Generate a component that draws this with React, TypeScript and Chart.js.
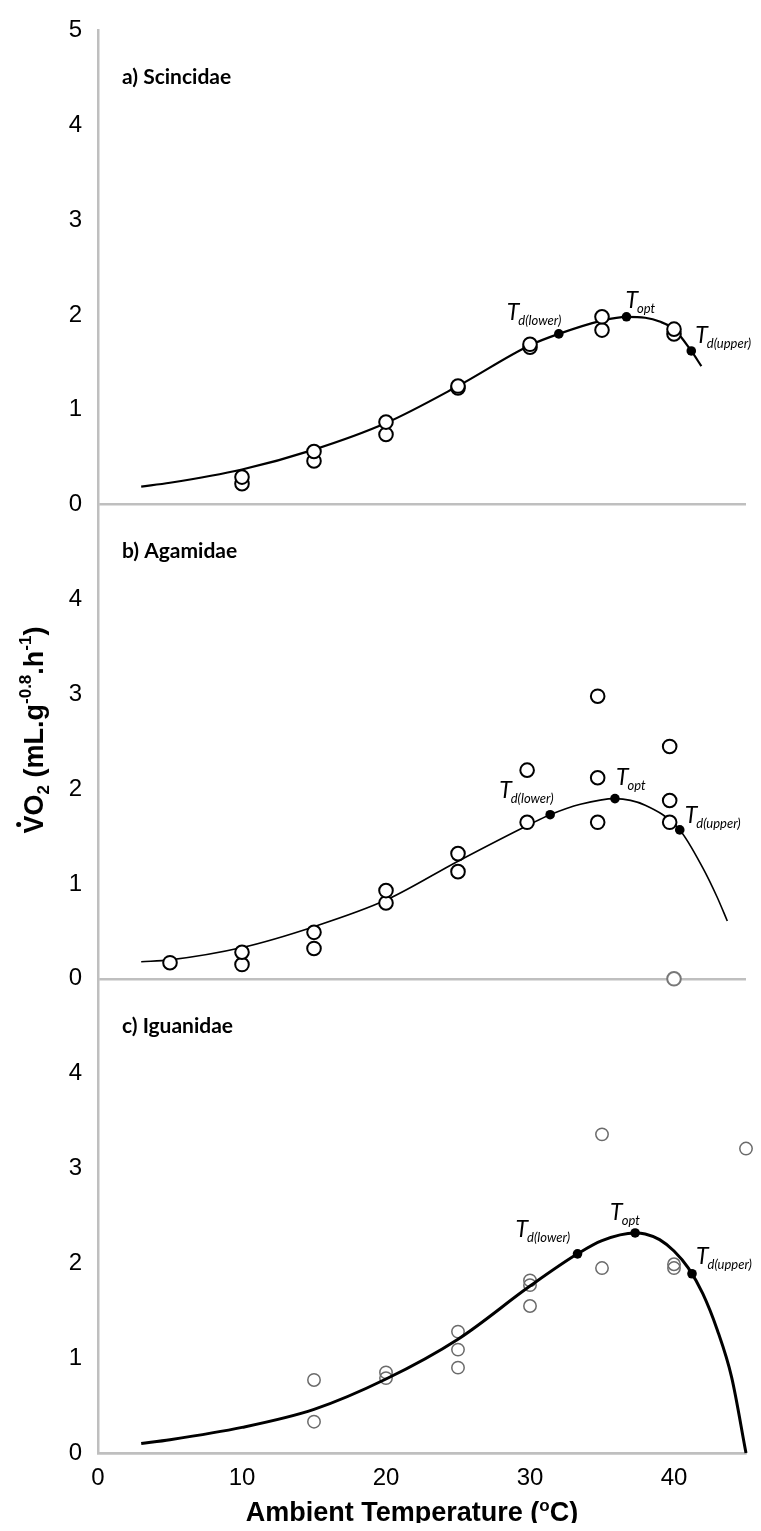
import React, { useEffect, useRef } from 'react';
import { Chart, registerables } from 'chart.js';

Chart.register(...registerables);

// ---------- axes ----------
const xMin = 0;
const xMax = 45;
const xStep = 10;
const yMin = 0;
const yMax = 5;
const yStep = 1;

const panelLabels = ['a) Scincidae', 'b) Agamidae', 'c) Iguanidae'];
const annotMain = ['T', 'T', 'T'];
const annotSub = ['d(lower)', 'opt', 'd(upper)'];

// ---------- a) Scincidae ----------
const scincidaeObsT = [10, 10, 15, 15, 20, 20, 25, 25, 30, 30, 35, 35, 40, 40];
const scincidaeObsV = [0.22, 0.29, 0.46, 0.56, 0.74, 0.87, 1.23, 1.25, 1.66, 1.69, 1.84, 1.98, 1.80, 1.85];
const scincidaeCurveT = [3, 5, 10, 15, 20, 25, 30, 32, 35, 36.7, 38, 39, 40, 41.2, 41.9];
const scincidaeCurveV = [0.19, 0.23, 0.37, 0.58, 0.86, 1.25, 1.68, 1.80, 1.94, 1.98, 1.97, 1.93, 1.85, 1.62, 1.46];
const scincidaeMarkT = [32.0, 36.7, 41.2];
const scincidaeMarkV = [1.80, 1.98, 1.62];

// ---------- b) Agamidae ----------
const agamidaeObsT = [5, 10, 10, 15, 15, 20, 20, 25, 25, 29.8, 29.8, 34.7, 34.7, 34.7, 39.7, 39.7, 39.7];
const agamidaeObsV = [0.17, 0.15, 0.28, 0.32, 0.49, 0.80, 0.93, 1.13, 1.32, 1.65, 2.20, 1.65, 2.12, 2.98, 1.65, 1.88, 2.45];
const agamidaeOutlierT = [40.0];
const agamidaeOutlierV = [0.0];
const agamidaeCurveT = [3, 5, 10, 15, 20, 25, 30, 31.4, 33.5, 35.9, 38, 40.4, 42, 43, 43.7];
const agamidaeCurveV = [0.18, 0.20, 0.33, 0.55, 0.83, 1.24, 1.63, 1.73, 1.84, 1.90, 1.83, 1.57, 1.17, 0.86, 0.61];
const agamidaeMarkT = [31.4, 35.9, 40.4];
const agamidaeMarkV = [1.73, 1.90, 1.57];

// ---------- c) Iguanidae ----------
const iguanidaeObsT = [15, 15, 20, 20, 25, 25, 25, 30, 30, 30, 35, 35, 40, 40, 45];
const iguanidaeObsV = [0.77, 0.33, 0.85, 0.79, 1.28, 1.09, 0.90, 1.82, 1.77, 1.55, 3.36, 1.95, 1.99, 1.95, 3.21];
const iguanidaeCurveT = [3, 5, 10, 15, 20, 25, 30, 33.3, 35, 37.3, 38, 39, 40, 41, 42, 43, 44, 45];
const iguanidaeCurveV = [0.10, 0.14, 0.27, 0.46, 0.78, 1.20, 1.76, 2.10, 2.24, 2.32, 2.31, 2.25, 2.13, 1.95, 1.68, 1.30, 0.80, 0.0];
const iguanidaeMarkT = [33.3, 37.3, 41.25];
const iguanidaeMarkV = [2.10, 2.32, 1.89];

const AXIS_GRAY = '#bfbfbf';
const W = 761;
const H = 1531;

const pts = (ts: number[], vs: number[]) => ts.map((t, i) => ({ x: t, y: vs[i] }));

type Seg = { text: string; size: number; dy: number; dot?: boolean };

function drawRich(ctx: CanvasRenderingContext2D, segs: Seg[], cx: number, baseY: number, style: string, family: string) {
  let total = 0;
  const widths = segs.map((s) => {
    ctx.font = `${style} ${s.size}px ${family}`;
    const w = ctx.measureText(s.text).width;
    total += w;
    return w;
  });
  let x = cx - total / 2;
  segs.forEach((s, i) => {
    ctx.font = `${style} ${s.size}px ${family}`;
    ctx.fillText(s.text, x, baseY + s.dy);
    if (s.dot) {
      ctx.beginPath();
      ctx.arc(x + widths[i] / 2, baseY + s.dy - s.size * 0.716 - 5, 2.5, 0, Math.PI * 2);
      ctx.fill();
    }
    x += widths[i];
  });
}

export default function App() {
  const ref = useRef<HTMLCanvasElement>(null);

  useEffect(() => {
    const canvas = ref.current;
    if (!canvas) return;

    const panels = [
      {
        yId: 'yA', obsT: scincidaeObsT, obsV: scincidaeObsV, curveT: scincidaeCurveT, curveV: scincidaeCurveV,
        markT: scincidaeMarkT, markV: scincidaeMarkV, lineWidth: 2.2,
        offsets: [[-52, -14], [-1, -9], [4, -8]],
      },
      {
        yId: 'yB', obsT: agamidaeObsT, obsV: agamidaeObsV, curveT: agamidaeCurveT, curveV: agamidaeCurveV,
        markT: agamidaeMarkT, markV: agamidaeMarkV, lineWidth: 1.6,
        offsets: [[-51, -17], [1, -14], [5, -7]],
      },
      {
        yId: 'yC', obsT: iguanidaeObsT, obsV: iguanidaeObsV, curveT: iguanidaeCurveT, curveV: iguanidaeCurveV,
        markT: iguanidaeMarkT, markV: iguanidaeMarkV, lineWidth: 3,
        offsets: [[-62, -17], [-25, -13], [4, -10]],
      },
    ];

    const datasets: any[] = [];
    panels.forEach((p, pi) => {
      datasets.push({
        type: 'scatter', data: pts(p.markT, p.markV), xAxisID: 'x', yAxisID: p.yId,
        pointRadius: 4.8, backgroundColor: '#000', borderColor: '#000', borderWidth: 0,
        pointBackgroundColor: '#000', pointBorderColor: '#000', pointBorderWidth: 0,
        order: 0, clip: false,
      });
      const isC = pi === 2;
      datasets.push({
        type: 'scatter', data: pts(p.obsT, p.obsV), xAxisID: 'x', yAxisID: p.yId,
        pointRadius: isC ? 6.2 : 6.8,
        backgroundColor: isC ? 'rgba(255,255,255,0)' : '#fff',
        pointBackgroundColor: isC ? 'rgba(255,255,255,0)' : '#fff',
        borderColor: isC ? '#6b6b6b' : '#000', pointBorderColor: isC ? '#6b6b6b' : '#000',
        borderWidth: isC ? 1.5 : 2, pointBorderWidth: isC ? 1.5 : 2,
        order: isC ? 3 : 1, clip: false,
      });
      datasets.push({
        type: 'line', data: pts(p.curveT, p.curveV), xAxisID: 'x', yAxisID: p.yId,
        borderColor: '#000', borderWidth: p.lineWidth, pointRadius: 0, fill: false,
        cubicInterpolationMode: 'monotone', order: 2, clip: false,
      });
    });
    datasets.push({
      type: 'scatter', data: pts(agamidaeOutlierT, agamidaeOutlierV), xAxisID: 'x', yAxisID: 'yB',
      pointRadius: 6.8, backgroundColor: '#fff', pointBackgroundColor: '#fff',
      borderColor: '#777', pointBorderColor: '#777', borderWidth: 2, pointBorderWidth: 2,
      order: 1, clip: false,
    });

    const yScale = (hideTop: boolean) => ({
      type: 'linear',
      position: 'left',
      stack: 'panels',
      stackWeight: 1,
      min: yMin,
      max: yMax,
      afterFit: (s: any) => { s.width = 98; },
      ticks: {
        stepSize: yStep,
        padding: 16,
        color: '#000',
        font: { family: 'Liberation Sans', size: 24 },
        callback: (v: any) => (hideTop && v === yMax ? '' : String(v)),
      },
      grid: {
        drawTicks: false,
        lineWidth: 2.5,
        color: (c: any) => (c.tick && c.tick.value === 0 ? AXIS_GRAY : 'rgba(0,0,0,0)'),
      },
      border: { display: true, color: AXIS_GRAY, width: 2.5 },
    });

    const titlePlugin = {
      id: 'decor',
      afterDatasetsDraw(chart: any) {
        const ctx: CanvasRenderingContext2D = chart.ctx;
        const xs = chart.scales.x;
        ctx.save();
        ctx.fillStyle = '#000';
        panels.forEach((p, pi) => {
          const ys = chart.scales[p.yId];
          ctx.font = 'bold 21px Lato';
          ctx.textAlign = 'left';
          ctx.textBaseline = 'middle';
          ctx.fillText(panelLabels[pi], chart.chartArea.left + 24, ys.top + 47);
          ctx.textBaseline = 'alphabetic';
          p.markT.forEach((t, i) => {
            const px = xs.getPixelForValue(t);
            const py = ys.getPixelForValue(p.markV[i]);
            const [dx, dy] = p.offsets[i];
            ctx.font = 'italic 23px Lato';
            ctx.fillText(annotMain[i], px + dx, py + dy);
            const w = ctx.measureText(annotMain[i]).width;
            ctx.font = 'italic 13px Lato';
            ctx.fillText(annotSub[i], px + dx + w - 1, py + dy + 5);
          });
        });
        ctx.restore();
      },
      afterDraw(chart: any) {
        const ctx: CanvasRenderingContext2D = chart.ctx;
        ctx.save();
        ctx.fillStyle = '#000';
        ctx.textAlign = 'left';
        ctx.textBaseline = 'alphabetic';
        // x title
        drawRich(ctx, [
          { text: 'Ambient Temperature (', size: 27, dy: 0 },
          { text: 'o', size: 17, dy: -10 },
          { text: 'C)', size: 27, dy: 0 },
        ], 412, 1521, 'bold', 'Liberation Sans');
        // y title (rotated)
        ctx.translate(43, 730);
        ctx.rotate(-Math.PI / 2);
        drawRich(ctx, [
          { text: 'V', size: 27, dy: 0, dot: true },
          { text: 'O', size: 27, dy: 0 },
          { text: '2', size: 17, dy: 6 },
          { text: ' (mL.g', size: 27, dy: 0 },
          { text: '-0.8', size: 17, dy: -12 },
          { text: '.h', size: 27, dy: 0 },
          { text: '-1', size: 17, dy: -12 },
          { text: ')', size: 27, dy: 0 },
        ], 0, 0, 'bold', 'Liberation Sans');
        ctx.restore();
      },
    };

    const chart = new Chart(canvas, {
      type: 'scatter',
      data: { datasets },
      options: {
        animation: false,
        responsive: false,
        devicePixelRatio: 1,
        events: [],
        layout: { padding: { top: 18, right: 15, left: 0, bottom: 0 } },
        plugins: { legend: { display: false }, tooltip: { enabled: false }, title: { display: false } },
        scales: {
          x: {
            type: 'linear',
            position: 'bottom',
            min: xMin,
            max: xMax,
            afterFit: (s: any) => { s.height = 78; },
            ticks: {
              stepSize: xStep,
              includeBounds: false,
              maxRotation: 0,
              autoSkip: false,
              padding: 11,
              color: '#000',
              font: { family: 'Liberation Sans', size: 24 },
            },
            grid: { display: false, drawTicks: false },
            border: { display: true, color: AXIS_GRAY, width: 2.5 },
          },
          // stacked panels are laid out bottom-up in key order
          yC: yScale(true),
          yB: yScale(true),
          yA: yScale(false),
        } as any,
      },
      plugins: [titlePlugin],
    } as any);

    return () => chart.destroy();
  }, []);

  return (
    <div style={{ margin: '-8px', width: W, height: H, background: '#fff' }}>
      <canvas ref={ref} width={W} height={H} style={{ display: 'block', width: W, height: H }} />
    </div>
  );
}
